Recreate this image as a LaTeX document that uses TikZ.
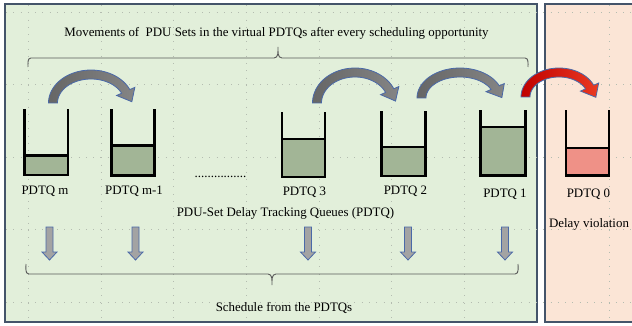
\documentclass[tikz,border=0pt]{standalone}
\usepackage{fontspec}
\setmainfont{Liberation Serif}
\definecolor{panelgreen}{HTML}{E2EFDA}
\definecolor{panelpink}{HTML}{FBE5D6}
\definecolor{panelborder}{HTML}{44546A}
\definecolor{qfill}{HTML}{A2B596}
\definecolor{qpink}{HTML}{EF9187}
\definecolor{arrowblue}{HTML}{4A69A8}
\definecolor{gridgray}{HTML}{B4BCB0}
\definecolor{reddark}{HTML}{C00000}
\definecolor{redlight}{HTML}{EA3A22}
\tikzset{
  panel/.style={draw=panelborder, line width=1.1pt},
  gridline/.style={gridgray, line width=0.7pt, dash pattern=on 0.8pt off 6.46pt},
  qwall/.style={line width=2.4pt, line join=miter, line cap=rect},
  lbl/.style={font=\fontsize{12.9}{15}\selectfont, anchor=base, inner sep=0pt},
  bracestyle/.style={draw=black!65, line width=0.9pt},
  downblk/.style={fill=gray!72, draw=arrowblue, line width=0.8pt},
  grayarc/.style={draw=arrowblue, line width=0.8pt, left color=black!60, right color=black!48},
  redarc/.style={draw=arrowblue, line width=0.8pt, left color=reddark, right color=redlight},
}
% queue: L, R, T, Bot, level, fill
\newcommand\pdtqbox[6]{%
  \fill[#6] (#1,#5) rectangle (#2,#4);
  \draw[qwall] (#1,#3) -- (#1,#4) -- (#2,#4) -- (#2,#3);
  \draw[qwall] (#1,#5) -- (#2,#5);
}
% curved block arrow: cx, B, rxo, ryo, style
\newcommand\blockarc[5]{%
  \pgfmathsetmacro\BArxm{#3-4.5}\pgfmathsetmacro\BArym{#4-4.5}%
  \pgfmathsetmacro\BAtux{\BArxm*sin(24)}\pgfmathsetmacro\BAtuy{\BArym*cos(24)}%
  \pgfmathsetmacro\BAtn{sqrt(\BAtux*\BAtux+\BAtuy*\BAtuy)}%
  \pgfmathsetmacro\BAtipx{#1+\BArxm*cos(24)+12*\BAtux/\BAtn}%
  \pgfmathsetmacro\BAtipy{#2-\BArym*sin(24)+12*\BAtuy/\BAtn}%
  \path[#5] plot[domain=180:24,samples=40] ({#1+#3*cos(\x)},{#2-#4*sin(\x)})
    -- ({#1+(#3+5.5)*cos(24)},{#2-(#4+5.5)*sin(24)})
    -- (\BAtipx,\BAtipy)
    -- ({#1+(#3-14.5)*cos(24)},{#2-(#4-14.5)*sin(24)})
    -- plot[domain=24:180,samples=40] ({#1+(#3-9)*cos(\x)},{#2-(#4-9)*sin(\x)})
    -- cycle;
}
\newcommand\downblock[1]{%
  \draw[downblk] ({#1-3.5},227) -- ({#1+3.5},227) -- ({#1+3.5},252) -- ({#1+7.5},252)
    -- (#1,260) -- ({#1-7.5},252) -- ({#1-3.5},252) -- cycle;
}
\begin{document}
\begin{tikzpicture}[x=1pt,y=-1pt]
\useasboundingbox (0,0) rectangle (632,326);
\clip (0,0) rectangle (632,326);
% panels
\fill[white] (0,0) rectangle (632,326);
\draw[panel, fill=panelgreen] (5,4) rectangle (537,322);
\draw[panel, fill=panelpink] (545,4) rectangle (645,322);
% dotted guide grid
\foreach \gx in {28.5,101.1,173.7,246.3,318.9,391.5,464.1,609.3}
  \draw[gridline] (\gx,5) -- (\gx,321);
\foreach \gy in {12,84.6,157.2,229.8,302.4}
  \draw[gridline] (6,\gy) -- (631,\gy);
% top text and brace
\node[lbl] (title) at (276.5,36.5) {Movements of \ PDU Sets in the virtual PDTQs after every scheduling opportunity};
\draw[bracestyle] (28,67) to[out=90,in=180] (31,58) -- (274,58) to[out=0,in=-90] (278,47)
  to[out=-90,in=180] (282,58) -- (525,58) to[out=0,in=90] (528,67);
% curved arrows
\blockarc{91}{103}{42.5}{33}{grayarc}
\blockarc{355}{103}{42.5}{35}{grayarc}
\blockarc{460}{98}{43}{30}{grayarc}
\blockarc{559}{97}{38}{29}{redarc}
% queues
\pdtqbox{24.5}{68}{110}{175}{155.5}{qfill}
\pdtqbox{111.5}{154.5}{110}{175.5}{145.5}{qfill}
\pdtqbox{282}{325}{113}{177}{139}{qfill}
\pdtqbox{381.5}{425.5}{112}{176}{147}{qfill}
\pdtqbox{480.5}{525.5}{111}{175.5}{127}{qfill}
\pdtqbox{566}{609}{111}{175.5}{148}{qpink}
% labels
\node[lbl] (lm) at (45,194) {PDTQ m};
\node[lbl] (lm1) at (134,194) {PDTQ m-1};
\node[lbl] (ldots) at (220.5,178) {................};
\node[lbl] (l3) at (304.5,195) {PDTQ 3};
\node[lbl] (l2) at (405.5,194.5) {PDTQ 2};
\node[lbl] (l1) at (505,197) {PDTQ 1};
\node[lbl] (l0) at (588.5,197) {PDTQ 0};
\node[lbl] (lset) at (285.5,216.5) {PDU-Set Delay Tracking Queues (PDTQ)};
\node[lbl] (lviol) at (589,227.5) {Delay violation};
% down arrows
\downblock{49.5}
\downblock{135.5}
\downblock{308}
\downblock{408}
\downblock{505}
% bottom brace and text
\draw[bracestyle] (26,264) to[out=-90,in=180] (29,274) -- (268,274) to[out=0,in=90] (272,285)
  to[out=90,in=180] (276,274) -- (515,274) to[out=0,in=-90] (518,264);
\node[lbl] (lsched) at (284,311) {Schedule from the PDTQs};
\end{tikzpicture}
\end{document}
